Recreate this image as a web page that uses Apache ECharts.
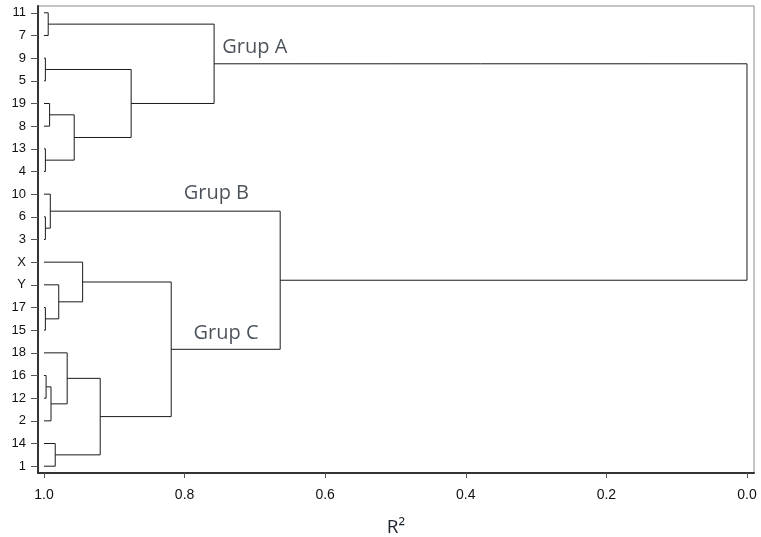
<!DOCTYPE html>
<html>
<head>
<meta charset="utf-8">
<script src="https://cdn.jsdelivr.net/npm/echarts@6/dist/echarts.min.js"></script>
<style>
  html, body { margin: 0; padding: 0; background: #fff; }
  #chart { width: 761px; height: 537px; }
</style>
</head>
<body>
<div id="chart"></div>
<script>
// leaves, top to bottom
var leaves = ['11', '7', '9', '5', '19', '8', '13', '4', '10', '6', '3',
              'X', 'Y', '17', '15', '18', '16', '12', '2', '14', '1'];

// merges: left child, right child, R² at which they join
// children are leaf names or 'c<n>' for the n-th merge
var mergeLeft  = ['11', '9', '19', '13', 'c2', 'c1', 'c0', '6', '10', '17', 'Y', 'X', '16', 'c12', '18', '14', 'c14', 'c11', 'c8', 'c6'];
var mergeRight = ['7', '5', '8', '4', 'c3', 'c4', 'c5', '3', 'c7', '15', 'c9', 'c10', '12', '2', 'c13', '1', 'c15', 'c16', 'c17', 'c18'];
var mergeR2    = [0.994, 0.998, 0.992, 0.998, 0.957, 0.876, 0.758, 0.998, 0.991, 0.998, 0.979, 0.945, 0.997, 0.990, 0.967, 0.984, 0.920, 0.819, 0.664, 0.0];

var xTicks = [0, 0.2, 0.4, 0.6, 0.8, 1.0];

var groupNames = ['Grup A', 'Grup B', 'Grup C'];
var groupR2    = [0.747, 0.802, 0.788];
var groupY     = [1.51, 7.95, 14.12];

// node positions: x = R², y = leaf row (or mean of children)
var nodes = {};
leaves.forEach(function (name, i) { nodes[name] = { x: 1.0, y: i }; });
var links = [];
for (var i = 0; i < mergeR2.length; i++) {
    var a = nodes[mergeLeft[i]], b = nodes[mergeRight[i]];
    links.push([a.x, a.y, mergeR2[i], b.y, b.x]);
    nodes['c' + i] = { x: mergeR2[i], y: (a.y + b.y) / 2 };
}

var rows = leaves.map(function (_, i) { return i; });
var labels = groupNames.map(function (n, i) { return [groupR2[i], groupY[i], n]; });

var myChart = echarts.init(document.getElementById('chart'));

var option = {
    animation: false,
    grid: {
        left: 38, right: 7, top: 6, bottom: 64,
        show: true, borderColor: '#8a8a8a', borderWidth: 1,
        outerBoundsMode: 'none'
    },
    xAxis: {
        type: 'value',
        inverse: true,
        min: -0.01,
        max: 1.0085,
        splitLine: { show: false },
        axisLine: { show: true, onZero: false, lineStyle: { color: '#333', width: 2 } },
        axisTick: { show: true, length: 5, customValues: xTicks, lineStyle: { color: '#555' } },
        axisLabel: {
            customValues: xTicks,
            formatter: function (v) { return v.toFixed(1); },
            color: '#111', fontFamily: 'Liberation Sans', fontSize: 14, margin: 15
        },
        name: 'R²',
        nameLocation: 'middle',
        nameGap: 45,
        nameTextStyle: { color: '#1e2630', fontFamily: 'Open Sans', fontSize: 19 }
    },
    yAxis: {
        type: 'value',
        inverse: true,
        min: -0.3,
        max: 20.3,
        splitLine: { show: false },
        axisLine: { show: true, onZero: false, lineStyle: { color: '#333', width: 2 } },
        axisTick: { show: true, length: 7, customValues: rows, lineStyle: { color: '#555' } },
        axisLabel: {
            customValues: rows,
            formatter: function (v) { return leaves[v]; },
            color: '#111', fontFamily: 'Liberation Sans', fontSize: 13, margin: 12
        }
    },
    series: [
        {
            type: 'custom',
            data: links,
            encode: { x: [0, 2, 4], y: [1, 3] },
            renderItem: function (params, api) {
                var pts = [
                    api.coord([api.value(0), api.value(1)]),
                    api.coord([api.value(2), api.value(1)]),
                    api.coord([api.value(2), api.value(3)]),
                    api.coord([api.value(4), api.value(3)])
                ];
                return {
                    type: 'polyline',
                    shape: { points: pts },
                    style: { stroke: '#1a1a1a', fill: null, lineWidth: 1 }
                };
            }
        },
        {
            type: 'scatter',
            data: labels,
            symbolSize: 1,
            itemStyle: { color: 'rgba(0,0,0,0)' },
            label: {
                show: true,
                position: 'right',
                distance: 0,
                formatter: function (p) { return p.data[2]; },
                color: '#1e2630',
                fontFamily: 'Open Sans',
                fontSize: 20
            }
        }
    ]
};

myChart.setOption(option);
</script>
</body>
</html>
